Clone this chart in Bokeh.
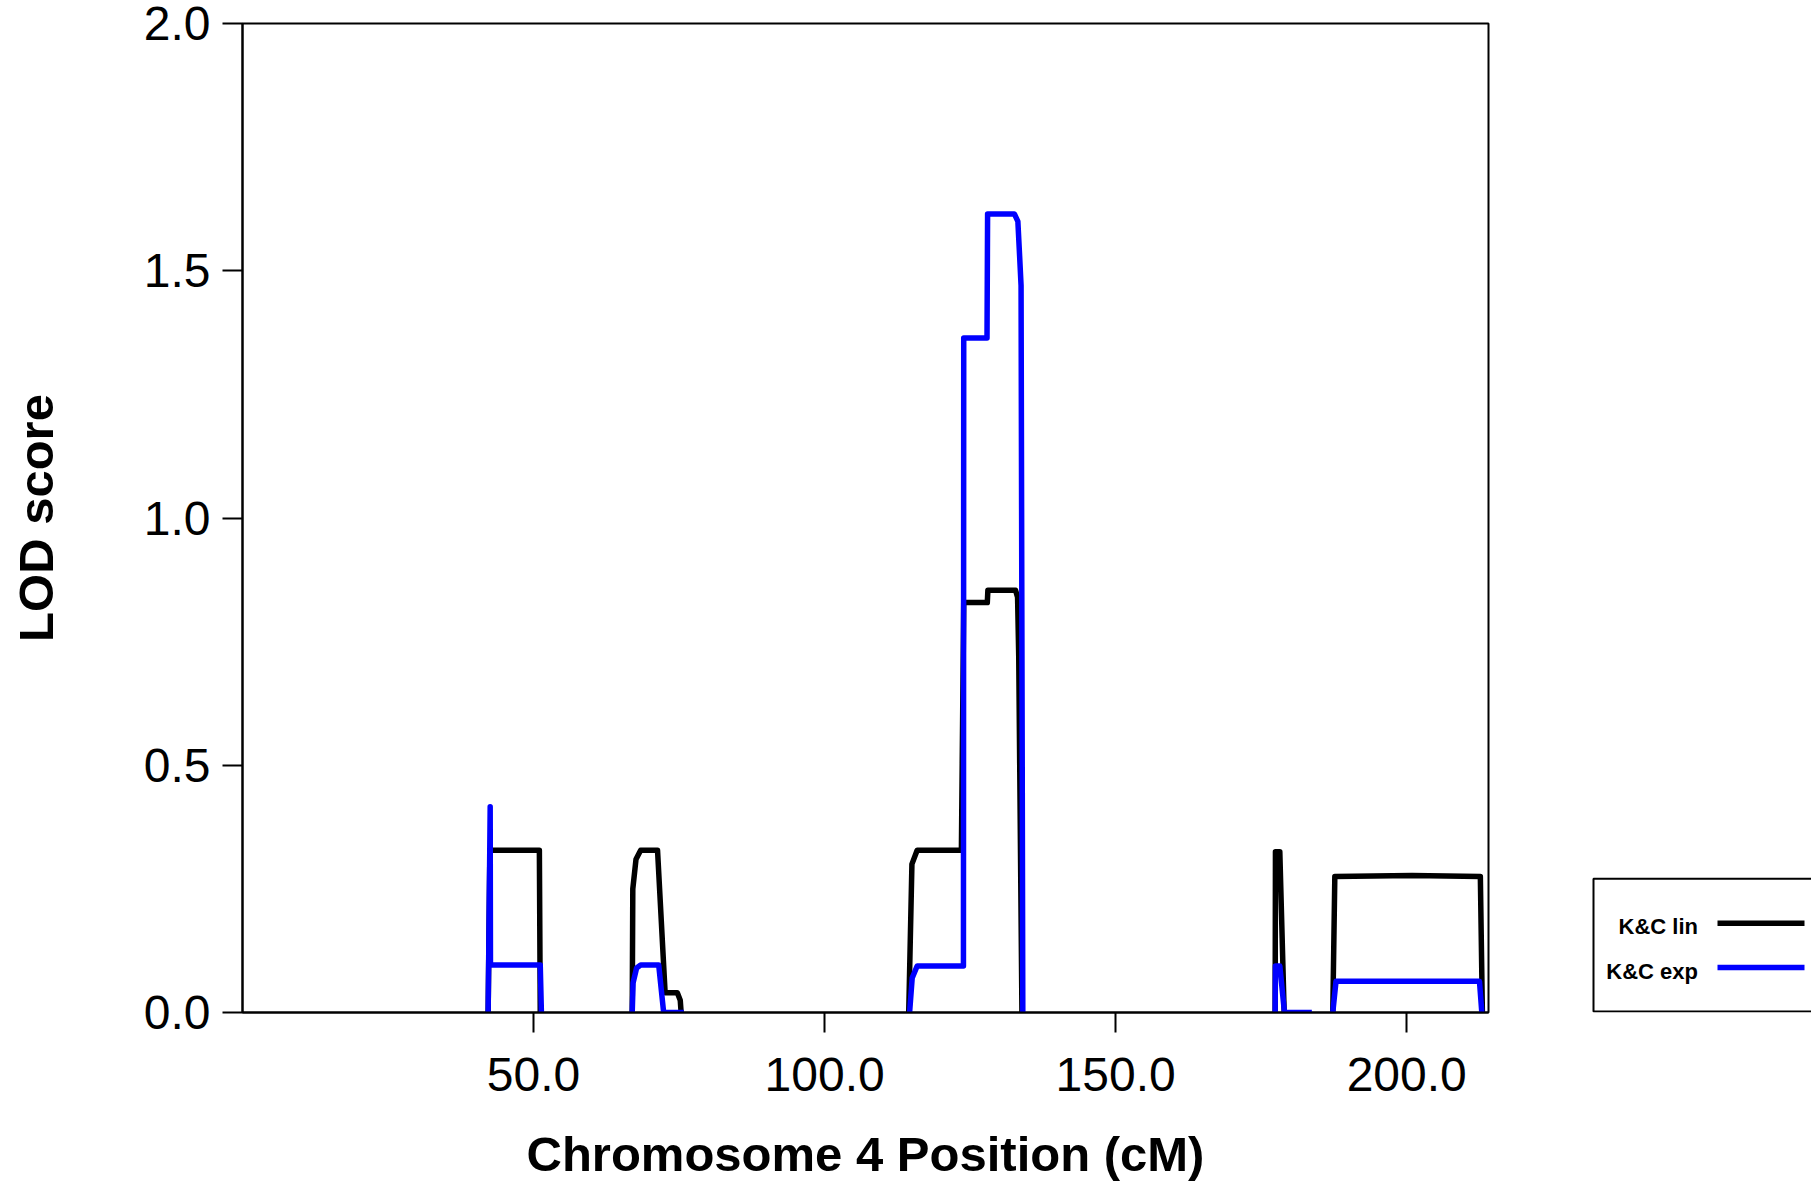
from bokeh.plotting import figure
from bokeh.layouts import row
from bokeh.models import (Range1d, FixedTicker, NumeralTickFormatter, BoxAnnotation)
from bokeh.core.properties import value
from bokeh.embed import file_html
from bokeh.resources import INLINE

NAN = float("nan")

# K&C lin (black) : position (cM) and LOD, NaN separates the segments
lin_pos = [42.2, 42.5, 51.0, 51.15, NAN,
           66.95, 67.05, 67.6, 68.4, 71.3, 72.6, 74.7, 75.2, 75.35, NAN,
           114.45, 115.0, 115.9, 123.5, 123.9, 127.95, 128.05, 132.8, 133.15, 133.35, 133.9, NAN,
           177.4, 177.45, 178.2, 178.95, NAN,
           187.3, 187.65, 200.9, 212.65, 213.0]
lin_lod = [0.0, 0.328, 0.328, 0.0, NAN,
           0.0, 0.25, 0.31, 0.328, 0.328, 0.040, 0.040, 0.025, 0.0, NAN,
           0.0, 0.30, 0.328, 0.328, 0.829, 0.829, 0.854, 0.854, 0.84, 0.72, 0.0, NAN,
           0.0, 0.325, 0.325, 0.0, NAN,
           0.0, 0.275, 0.277, 0.275, 0.0]

# K&C exp (blue)
exp_pos = [42.2, 42.55, 42.6, 51.15, 51.35, NAN,
           66.95, 67.1, 67.7, 68.4, 71.5, 72.35, 75.8, NAN,
           114.6, 115.05, 115.9, 123.85, 123.9, 127.9, 128.0, 132.6, 133.2, 133.5, 133.75, 134.05, NAN,
           177.4, 177.45, 178.2, 179.0, 183.7, NAN,
           187.3, 187.85, 212.5, 212.9]
exp_lod = [0.0, 0.416, 0.096, 0.096, 0.0, NAN,
           0.0, 0.06, 0.09, 0.096, 0.096, 0.0, 0.0, NAN,
           0.0, 0.07, 0.094, 0.094, 1.364, 1.364, 1.615, 1.615, 1.60, 1.53, 1.47, 0.0, NAN,
           0.0, 0.094, 0.094, 0.0, 0.0, NAN,
           0.0, 0.063, 0.063, 0.0]

series_names = ["K&C lin", "K&C exp"]
series_colors = ["#000000", "#0000ff"]
x_ticks = [50, 100, 150, 200]
y_ticks = [0.0, 0.5, 1.0, 1.5, 2.0]
x_title = "Chromosome 4 Position (cM)"
y_title = "LOD score"

FONT = "Liberation Sans"
LW = 5.5

p = figure(width=1589, height=1186, output_backend="svg", toolbar_location=None,
           x_range=Range1d(0, 214.05), y_range=Range1d(0, 2.0),
           min_border_left=242, min_border_right=101, min_border_top=23,
           min_border_bottom=174)
p.grid.visible = False
p.outline_line_color = "black"
p.outline_line_width = 2
p.background_fill_color = "white"
p.border_fill_color = "white"

for ax in (p.xaxis[0], p.yaxis[0]):
    ax.axis_line_width = 2
    ax.axis_line_color = "black"
    ax.major_tick_line_width = 2
    ax.major_tick_line_color = "black"
    ax.major_tick_out = 20
    ax.major_tick_in = 0
    ax.minor_tick_out = 0
    ax.minor_tick_in = 0
    ax.major_label_text_font = FONT
    ax.major_label_text_font_size = "48px"
    ax.major_label_text_color = "black"
    ax.axis_label_text_font = FONT
    ax.axis_label_text_font_size = "49px"
    ax.axis_label_text_font_style = "bold"
    ax.axis_label_text_color = "black"
    ax.formatter = NumeralTickFormatter(format="0.0")

p.xaxis.ticker = FixedTicker(ticks=x_ticks)
p.yaxis.ticker = FixedTicker(ticks=y_ticks)
p.xaxis.axis_label = x_title
p.yaxis.axis_label = y_title
p.xaxis.major_label_standoff = 25
p.yaxis.major_label_standoff = 12
p.xaxis.axis_label_standoff = 33
p.yaxis.axis_label_standoff = 78

p.line(lin_pos, lin_lod, line_color=series_colors[0], line_width=LW, line_join="round")
p.line(exp_pos, exp_lod, line_color=series_colors[1], line_width=LW, line_join="round")

# legend panel: a figure whose frame is aligned with the main frame (rows 23..1012);
# its y range is expressed in page pixels measured downward
lg = figure(width=222, height=1186, output_backend="svg", toolbar_location=None,
            x_range=Range1d(0, 222), y_range=Range1d(1012, 23),
            x_axis_type=None, y_axis_type=None,
            min_border_left=0, min_border_right=0, min_border_top=23, min_border_bottom=174)
lg.grid.visible = False
lg.outline_line_color = None
lg.background_fill_color = "white"
lg.border_fill_color = "white"

lg.add_layout(BoxAnnotation(left=4, right=600, top=878.3, bottom=1011.0,
                            fill_color=None, fill_alpha=0,
                            line_color="black", line_alpha=1.0, line_width=2))
row_line_y = [922.7, 967.0]
row_text_y = [926.0, 971.0]
for name, col, ly, ty in zip(series_names, series_colors, row_line_y, row_text_y):
    lg.line([128, 215], [ly, ly], line_color=col, line_width=5.5)
    lg.text([108.5], [ty], text=[name], text_align="right", text_baseline="alphabetic",
            text_font=value(FONT), text_font_size="22px", text_font_style="bold",
            text_color="black")

layout = row(p, lg, spacing=0)
open("out.html", "w").write(file_html(layout, INLINE))
